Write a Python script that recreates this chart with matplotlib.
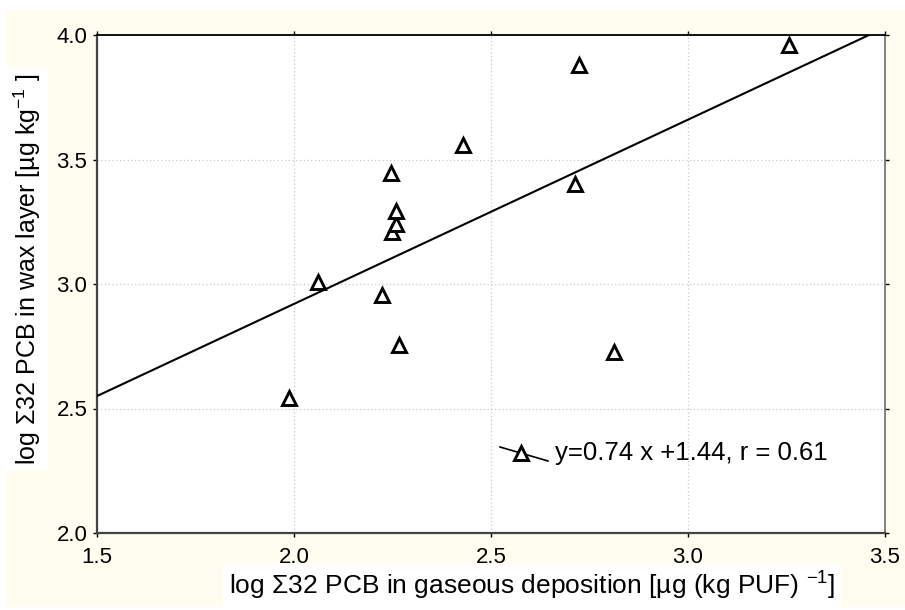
import numpy as np
import matplotlib
matplotlib.use("Agg")
import matplotlib.pyplot as plt

plt.rcParams['font.family'] = ['Liberation Sans', 'DejaVu Sans']
plt.rcParams['mathtext.fontset'] = 'custom'
plt.rcParams['mathtext.rm'] = 'Liberation Sans'
plt.rcParams['mathtext.it'] = 'Liberation Sans'

# data
gas_dep = [1.987, 2.061, 2.223, 2.266, 2.249, 2.259, 2.259, 2.246, 2.429, 2.713, 2.723, 2.812, 3.256]
wax = [2.542, 3.008, 2.956, 2.755, 3.209, 3.240, 3.293, 3.446, 3.558, 3.402, 3.880, 2.727, 3.960]
slope, intercept, r = 0.74, 1.44, 0.61
xticks = [1.5, 2.0, 2.5, 3.0, 3.5]
yticks = [2.0, 2.5, 3.0, 3.5, 4.0]

fig = plt.figure(figsize=(9.05, 6.10), dpi=100, facecolor='white')

# cream panel behind everything
bg = fig.add_axes([6/905, 3/610, 1 - 6/905, 1 - 13/610], zorder=0)
bg.set_facecolor('#fffcf0')
bg.set_xticks([])
bg.set_yticks([])
for s in bg.spines.values():
    s.set_visible(False)

ax = fig.add_axes([97/905, 1 - 533/610, 788/905, 498/610], zorder=2)
ax.set_facecolor('white')

# regression line
xl = np.array([1.5, 3.5])
ax.plot(xl, slope * xl + intercept, color='black', lw=1.5, zorder=3)
ax.plot(gas_dep, wax, ls='none', marker='^', ms=9.5, mfc='white', mec='black',
        mew=2.1, zorder=4)

ax.set_xlim(1.5, 3.5)
ax.set_ylim(2.0, 4.0)
ax.set_xticks(xticks)
ax.set_yticks(yticks)
ax.set_xticklabels([f'{t:.1f}' for t in xticks])
ax.set_yticklabels([f'{t:.1f}' for t in yticks])
ax.tick_params(direction='out', length=3, width=1, labelsize=16,
               top=True, right=True, labeltop=False, labelright=False)
ax.tick_params(axis='x', pad=7)
ax.tick_params(axis='y', pad=4)
ax.grid(True, color='#c8c8c8', ls=(0, (1, 2)), lw=0.9)
ax.set_axisbelow(True)
for side in ['left', 'bottom']:
    ax.spines[side].set_color('#444444')
    ax.spines[side].set_linewidth(1.6)
ax.spines['top'].set_color('black')
ax.spines['top'].set_linewidth(1.3)
ax.spines['right'].set_color('#777777')
ax.spines['right'].set_linewidth(1.3)

# legend drawn by hand (slanted line handle)
ax.plot([0.5114, 0.5723], [0.1727, 0.1446], transform=ax.transAxes,
        color='black', lw=1.2, clip_on=False, zorder=5)
ax.plot([0.538], [0.1606], transform=ax.transAxes, marker='^', ms=9.5,
        mfc='white', mec='black', mew=2.1, zorder=6)
ax.text(0.581, 0.1606, f'y={slope:.2f} x +{intercept:.2f}, r = {r:.2f}',
        transform=ax.transAxes, fontsize=18.5, va='center', ha='left')

fig.text(532/905, 1 - 586/610,
         'log \u03a332 PCB in gaseous deposition [\u00b5g (kg PUF) $^{-1}$]',
         fontsize=19, ha='center', va='center', zorder=3,
         bbox=dict(facecolor='white', edgecolor='none', pad=4))
fig.text(27/905, 1 - 269/610,
         'log \u03a332 PCB in wax layer [\u00b5g kg$^{-1}$ ]',
         fontsize=18, ha='center', va='center', rotation=90, zorder=3,
         bbox=dict(facecolor='white', edgecolor='none', pad=4))

fig.savefig('out.png', dpi=100, facecolor=fig.get_facecolor())
